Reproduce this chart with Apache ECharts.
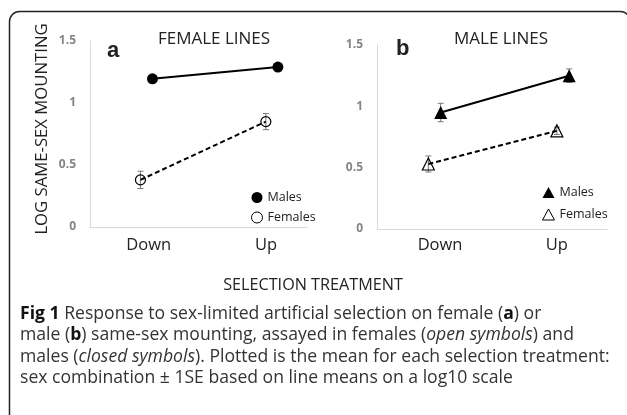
<!DOCTYPE html>
<html><head><meta charset="utf-8">
<script src="https://cdn.jsdelivr.net/npm/echarts@6/dist/echarts.min.js"></script>
<style>html,body{margin:0;padding:0;background:#fff}#c{width:627px;height:415px}</style>
</head><body><div id="c"></div>
<script>
// ---- data ----
const categories = ['Down', 'Up'];
const yTicks = [0, 0.5, 1, 1.5];
// panel a: FEMALE LINES
const aMales = [1.195, 1.29];
const aMalesSE = [0.02, 0.02];
const aFemales = [0.38, 0.85];
const aFemalesSE = [0.07, 0.065];
// panel b: MALE LINES
const bMales = [0.95, 1.25];
const bMalesSE = [0.075, 0.055];
const bFemales = [0.53, 0.80];
const bFemalesSE = [0.065, 0.03];

const FONT = 'Open Sans';
const DODGE = { m: 0.048, f: -0.048 };
function pts(vals, d) { return vals.map((v, i) => [i + 1 + d, v]); }
function errs(vals, se, d) { return vals.map((v, i) => [i + 1 + d, v, se[i]]); }

function errRender(params, api) {
  const x = api.value(0), y = api.value(1), s = api.value(2);
  const t = api.coord([x, y + s]), b = api.coord([x, y - s]);
  const w = 3;
  const st = { stroke: '#777', lineWidth: 1 };
  return { type: 'group', children: [
    { type: 'line', shape: { x1: t[0], y1: t[1], x2: b[0], y2: b[1] }, style: st },
    { type: 'line', shape: { x1: t[0] - w, y1: t[1], x2: t[0] + w, y2: t[1] }, style: st },
    { type: 'line', shape: { x1: b[0] - w, y1: b[1], x2: b[0] + w, y2: b[1] }, style: st }
  ]};
}

// visible category axis (labels) per panel
function labelAxis(idx, min, max, margin) {
  return {
    type: 'value', gridIndex: idx, min: min, max: max,
    axisLine: { show: true, lineStyle: { color: '#d9d9d9', width: 1 } },
    axisTick: { show: false }, splitLine: { show: false },
    axisLabel: {
      customValues: [1, 2],
      formatter: v => categories[Math.round(v) - 1],
      fontSize: 16.5, color: '#222', fontFamily: FONT, margin: margin
    }
  };
}
// hidden axis on which the plotted points sit
function pointAxis(idx, min, max) {
  return { type: 'value', gridIndex: idx, min: min, max: max, show: false,
    axisLine: { show: false }, splitLine: { show: false } };
}
function yAxis(idx) {
  return {
    type: 'value', gridIndex: idx, min: yTicks[0], max: yTicks[yTicks.length - 1], interval: 0.5,
    axisLine: { show: true, lineStyle: { color: '#d9d9d9', width: 1 } },
    axisTick: { show: false }, splitLine: { show: false },
    axisLabel: { color: '#858585', fontWeight: 'bold', fontSize: 12, fontFamily: FONT, margin: 14 }
  };
}

function lineSeries(name, idx, data, d, opt) {
  return Object.assign({
    name: name, type: 'line', xAxisIndex: idx + 2, yAxisIndex: idx,
    data: pts(data, d), z: 3, animation: false
  }, opt);
}
function errSeries(idx, data, se, d, z) {
  return { type: 'custom', xAxisIndex: idx + 2, yAxisIndex: idx, renderItem: errRender,
    data: errs(data, se, d), z: z, animation: false, silent: true };
}

const solid = { color: '#000', width: 2 };
const dashed = { color: '#000', width: 2, type: [5, 3] };
const openStyle = { color: 'rgba(255,255,255,0)', borderColor: '#000', borderWidth: 1.2 };
const fillStyle = { color: '#000' };

const option = {
  backgroundColor: '#fff',
  grid: [
    { left: 90, top: 41, width: 217, height: 186 },
    { left: 377, top: 45, width: 230, height: 184 }
  ],
  xAxis: [
    labelAxis(0, 0.5, 2.35, 10), labelAxis(1, 0.46, 2.43, 8),
    pointAxis(0, 0.55, 2.28), pointAxis(1, 0.5525, 2.342)
  ],
  yAxis: [yAxis(0), yAxis(1)],
  legend: [
    {
      orient: 'vertical', left: 251, top: 191, padding: 0, itemWidth: 11, itemHeight: 11, itemGap: 7,
      formatter: n => n.slice(1),
      textStyle: { fontSize: 12.5, color: '#222', fontFamily: FONT },
      data: [
        { name: 'aMales', icon: 'circle', itemStyle: { color: '#000' } },
        { name: 'aFemales', icon: 'circle', itemStyle: { color: '#fff', borderColor: '#000', borderWidth: 1 } }
      ]
    },
    {
      orient: 'vertical', left: 542, top: 186, padding: 0, itemWidth: 12, itemHeight: 11, itemGap: 9,
      formatter: n => n.slice(1),
      textStyle: { fontSize: 12.5, color: '#222', fontFamily: FONT },
      data: [
        { name: 'bMales', icon: 'triangle', itemStyle: { color: '#000' } },
        { name: 'bFemales', icon: 'triangle', itemStyle: { color: '#fff', borderColor: '#000', borderWidth: 1 } }
      ]
    }
  ],
  series: [
    errSeries(0, aMales, aMalesSE, DODGE.m, 2),
    errSeries(0, aFemales, aFemalesSE, DODGE.f, 2),
    lineSeries('aMales', 0, aMales, DODGE.m, { symbol: 'circle', symbolSize: 11, itemStyle: fillStyle, lineStyle: solid }),
    lineSeries('aFemales', 0, aFemales, DODGE.f, { symbol: 'circle', symbolSize: 10, itemStyle: openStyle, lineStyle: dashed }),
    errSeries(1, bMales, bMalesSE, DODGE.m, 2),
    errSeries(1, bFemales, bFemalesSE, DODGE.f, 2),
    lineSeries('bMales', 1, bMales, DODGE.m, { symbol: 'triangle', symbolSize: 13, itemStyle: fillStyle, lineStyle: solid }),
    lineSeries('bFemales', 1, bFemales, DODGE.f, { symbol: 'triangle', symbolSize: 12, itemStyle: openStyle, lineStyle: dashed })
  ],
  graphic: [
    { type: 'rect', silent: true, shape: { x: 9.5, y: 11.5, width: 621, height: 440, r: 10 },
      style: { fill: null, stroke: '#222', lineWidth: 1.5 } },
    { type: 'text', x: 42, y: 129, rotation: Math.PI / 2,
      style: { text: 'LOG SAME-SEX MOUNTING', font: '16.7px "Open Sans"', fill: '#222', textAlign: 'center', textVerticalAlign: 'middle' } },
    { type: 'text', x: 107, y: 51,
      style: { text: 'a', font: 'bold 22px "Liberation Sans"', fill: '#222', textAlign: 'left', textVerticalAlign: 'middle' } },
    { type: 'text', x: 396, y: 49,
      style: { text: 'b', font: 'bold 22px "Liberation Sans"', fill: '#222', textAlign: 'left', textVerticalAlign: 'middle' } },
    { type: 'text', x: 214, y: 39,
      style: { text: 'FEMALE LINES', font: '17px "Open Sans"', fill: '#222', textAlign: 'center', textVerticalAlign: 'middle' } },
    { type: 'text', x: 501, y: 39,
      style: { text: 'MALE LINES', font: '17px "Open Sans"', fill: '#222', textAlign: 'center', textVerticalAlign: 'middle' } },
    { type: 'text', x: 313, y: 285,
      style: { text: 'SELECTION TREATMENT', font: '16.2px "Open Sans"', fill: '#222', textAlign: 'center', textVerticalAlign: 'middle' } },
    { type: 'text', x: 20, y: 303,
      style: {
        text: '{b|Fig 1} Response to sex-limited artificial selection on female ({b|a}) or\n' +
              'male ({b|b}) same-sex mounting, assayed in females ({i|open symbols}) and\n' +
              'males ({i|closed symbols}). Plotted is the mean for each selection treatment:\n' +
              'sex combination \u00b1 1SE based on line means on a log10 scale',
        font: '17.6px "Open Sans"', fill: '#333', lineHeight: 21.5,
        rich: {
          b: { fontWeight: 'bold', fontSize: 17.6, fontFamily: FONT, fill: '#111', lineHeight: 21.5 },
          i: { fontStyle: 'italic', fontSize: 17.6, fontFamily: FONT, fill: '#333', lineHeight: 21.5 }
        }
      } }
  ]
};

const chart = echarts.init(document.getElementById('c'), null, { renderer: 'canvas' });
chart.setOption(option);
</script>
</body></html>
